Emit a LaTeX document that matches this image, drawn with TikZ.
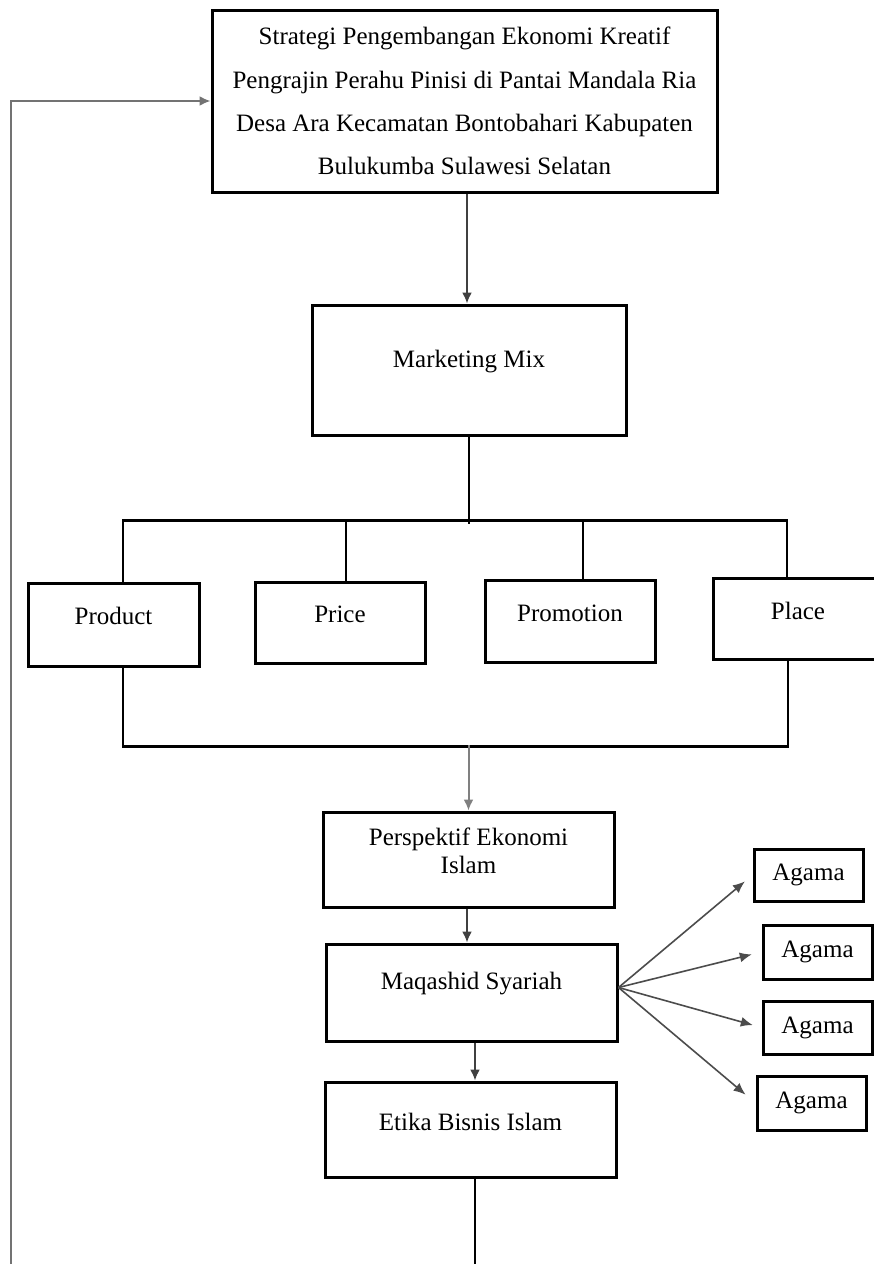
\documentclass[tikz,border=0pt]{standalone}
\usepackage{fontspec}
\setmainfont{Liberation Serif}
\usetikzlibrary{arrows.meta}
\newcommand\upt[2][8pt]{\raisebox{#1}[\height][\depth]{#2}}
\begin{document}
\begin{tikzpicture}[x=1pt,y=-1pt,
  box/.style={draw=black,line width=3pt,rectangle,inner sep=0pt,fill=white,
              font=\fontsize{25}{28}\selectfont,align=center},
  conn/.style={line width=2pt,draw=black!75},
  loopline/.style={line width=2pt,draw=black!55},
  bus/.style={line width=2.8pt,draw=black},
  arr/.style={conn,-{Latex[length=11pt,width=10pt]}},
  looparr/.style={loopline,-{Latex[length=11pt,width=10pt]}},
  fan/.style={line width=1.6pt,draw=black!70,-{Latex[length=12pt,width=10pt]}}]
\useasboundingbox (0,0) rectangle (874,1264);
\clip (0,0) rectangle (874,1264);

% main boxes
\node[box,minimum width=505pt,minimum height=182pt,font=\fontsize{25}{43.3}\selectfont] (top) at (464.5,101)
  {Strategi Pengembangan Ekonomi Kreatif\\Pengrajin Perahu Pinisi di Pantai Mandala Ria\\Desa Ara Kecamatan Bontobahari Kabupaten\\Bulukumba Sulawesi Selatan};
\node[box,minimum width=314pt,minimum height=130pt] (mm) at (469,370) {\upt{Marketing Mix}};

\node[box,minimum width=171pt,minimum height=83pt] (product) at (113.5,624.5) {\upt[9pt]{Product}};
\node[box,minimum width=170pt,minimum height=81pt] (price) at (340,622.5) {\upt{Price}};
\node[box,minimum width=170pt,minimum height=82pt] (promo) at (570,621) {\upt{Promotion}};
\node[box,minimum width=170pt,minimum height=81pt] (place) at (798,618.5) {\upt{Place}};

\node[box,minimum width=291pt,minimum height=95pt] (persp) at (468.5,859.5)
  {\upt[5.5pt]{\begin{tabular}{@{}c@{}}Perspektif Ekonomi\\Islam\end{tabular}}};
\node[box,minimum width=291pt,minimum height=97pt] (maq) at (471.5,992.5) {\upt[9pt]{Maqashid Syariah}};
\node[box,minimum width=291pt,minimum height=95pt] (etika) at (470.5,1129.5) {\upt[7.5pt]{Etika Bisnis Islam}};

\node[box,minimum width=109pt,minimum height=52pt] (a1) at (808.5,875) {Agama};
\node[box,minimum width=109pt,minimum height=54pt] (a2) at (817.5,952) {Agama};
\node[box,minimum width=109pt,minimum height=53pt] (a3) at (817.5,1027.5) {Agama};
\node[box,minimum width=109pt,minimum height=54pt] (a4) at (811.5,1103) {Agama};

% free ends
\coordinate (lb) at (11,1264);
\coordinate (bb) at (468.5,745);
\coordinate (eb) at (475,1264);

% feedback loop on the left
\draw[looparr] (lb) |- (top.west);

% top to marketing mix
\draw[arr] ([xshift=2.5pt]top.south) -- ([xshift=2.5pt]top.south |- mm.north);

% upper bus
\draw[bus] (mm.south) -- ++(0,87);
\draw[bus] ([xshift=9.5pt]product.north) -- ++(0,-61) -| ([xshift=-11pt]place.north);
\draw[bus] ([xshift=6pt]price.north) -- ++(0,-60);
\draw[bus] ([xshift=13pt]promo.north) -- ++(0,-58);

% lower bus
\draw[bus] ([xshift=9.5pt]product.south) -- ++(0,79) -| ([xshift=-10pt]place.south);
\draw[arr,draw=black!50] (bb) -- (persp.north);

% vertical chain
\draw[arr] ([xshift=-1.5pt]persp.south) -- ([xshift=-1.5pt]persp.south |- maq.north);
\draw[arr] ([xshift=3.5pt]maq.south) -- ([xshift=3.5pt]maq.south |- etika.north);
\draw[bus] (etika.south -| eb) -- (eb);

% fan to Agama boxes
\draw[fan,shorten >=10pt] ([yshift=5pt]maq.east) -- (a1.west);
\draw[fan,shorten >=10pt] ([yshift=5pt]maq.east) -- (a2.west);
\draw[fan,shorten >=9pt] ([yshift=5pt]maq.east) -- (a3.west);
\draw[fan,shorten >=13pt] ([yshift=5pt]maq.east) -- (a4.west);
\end{tikzpicture}
\end{document}
